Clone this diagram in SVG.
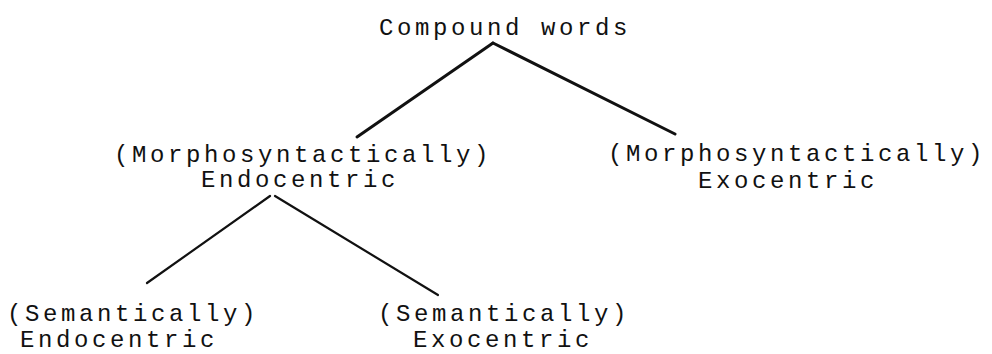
<svg xmlns="http://www.w3.org/2000/svg" width="992" height="354" viewBox="0 0 992 354">
<style>
text{font-family:"Liberation Mono","Courier New",monospace;font-size:24px;fill:#111;text-anchor:middle;letter-spacing:3.6px}
.e{stroke:#111;fill:none;stroke-linecap:round}
</style>
<rect width="992" height="354" fill="#fff"/>
<g id="connectors">
<line class="e" x1="493" y1="43" x2="357" y2="137" stroke-width="3"/>
<line class="e" x1="493" y1="43" x2="675" y2="134" stroke-width="3"/>
<line class="e" x1="270" y1="196" x2="147" y2="283" stroke-width="2.2"/>
<line class="e" x1="275" y1="196" x2="438" y2="295" stroke-width="2.2"/>
</g>
<g id="root"><text x="505" y="35">Compound words</text></g>
<g id="morph-endo"><text x="303" y="162">(Morphosyntactically)</text><text x="300" y="187">Endocentric</text></g>
<g id="morph-exo"><text x="797" y="161">(Morphosyntactically)</text><text x="788" y="188">Exocentric</text></g>
<g id="sem-endo"><text x="133" y="321">(Semantically)</text><text x="119" y="347">Endocentric</text></g>
<g id="sem-exo"><text x="504" y="321">(Semantically)</text><text x="503" y="347">Exocentric</text></g>
</svg>
